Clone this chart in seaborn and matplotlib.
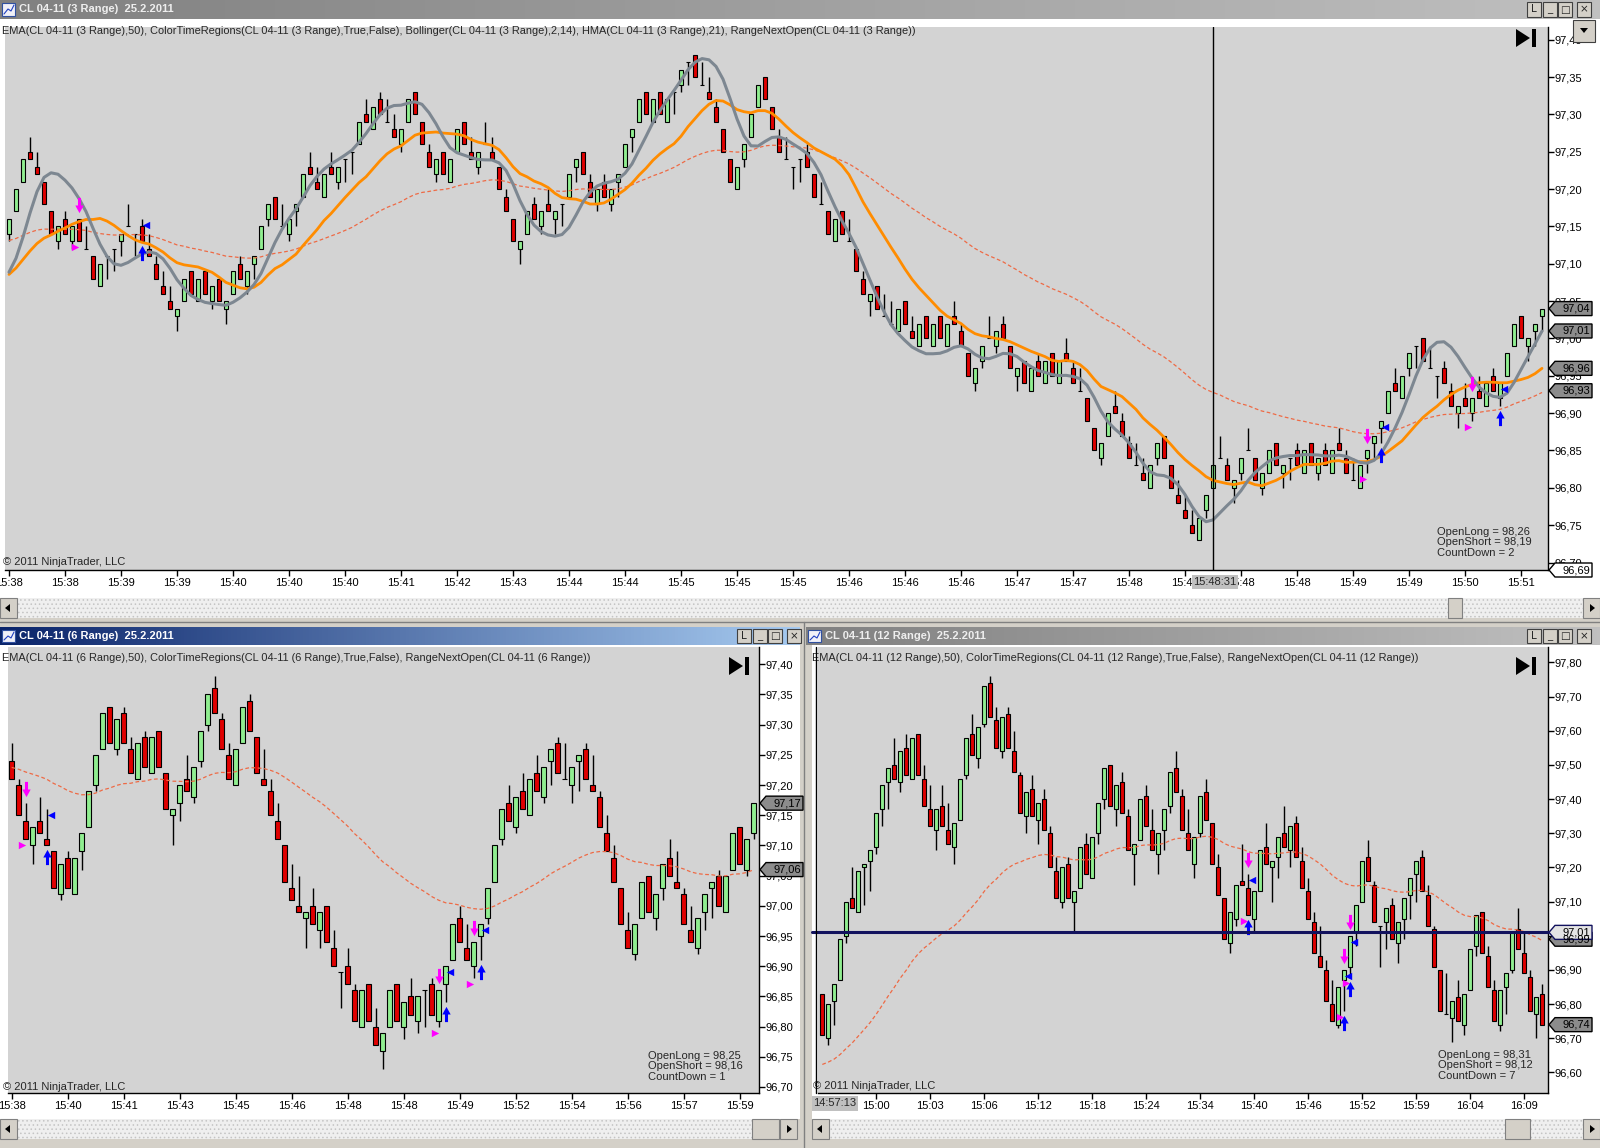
import numpy as np
import pandas as pd
import matplotlib
matplotlib.use("Agg")
import matplotlib.pyplot as plt
import seaborn as sns
from matplotlib.patches import Rectangle, Polygon
from matplotlib.colors import LinearSegmentedColormap
from matplotlib.transforms import offset_copy

# ---------------- data ----------------
# CL 04-11, 3 tick range bars (top window)
top_open = [
    97.14, 97.17, 97.21, 97.25, 97.23, 97.21, 97.17, 97.13, 97.16, 97.13,
    97.16, 97.12, 97.11, 97.07, 97.11, 97.12, 97.13, 97.15, 97.14, 97.15,
    97.12, 97.10, 97.07, 97.05, 97.03, 97.05, 97.09, 97.05, 97.09, 97.05,
    97.08, 97.04, 97.06, 97.10, 97.07, 97.10, 97.12, 97.16, 97.19, 97.15,
    97.14, 97.17, 97.19, 97.23, 97.21, 97.19, 97.23, 97.21, 97.24, 97.25,
    97.26, 97.30, 97.28, 97.32, 97.29, 97.28, 97.26, 97.29, 97.33, 97.29,
    97.25, 97.22, 97.25, 97.21, 97.25, 97.29, 97.25, 97.23, 97.26, 97.25,
    97.23, 97.19, 97.16, 97.12, 97.14, 97.18, 97.15, 97.18, 97.16, 97.18,
    97.19, 97.23, 97.25, 97.21, 97.18, 97.21, 97.18, 97.21, 97.23, 97.27,
    97.29, 97.33, 97.29, 97.33, 97.29, 97.33, 97.34, 97.37, 97.38, 97.34,
    97.33, 97.31, 97.28, 97.24, 97.20, 97.24, 97.27, 97.31, 97.35, 97.31,
    97.27, 97.24, 97.23, 97.24, 97.25, 97.22, 97.18, 97.17, 97.13, 97.17,
    97.13, 97.12, 97.08, 97.05, 97.07, 97.03, 97.02, 97.01, 97.05, 97.01,
    96.99, 97.03, 96.99, 97.03, 96.99, 97.03, 97.01, 96.98, 96.94, 96.97,
    97.00, 96.99, 97.02, 96.99, 96.95, 96.97, 96.93, 96.97, 96.94, 96.98,
    96.94, 96.98, 96.96, 96.93, 96.92, 96.88, 96.84, 96.87, 96.91, 96.89,
    96.86, 96.83, 96.82, 96.80, 96.84, 96.87, 96.83, 96.79, 96.77, 96.75,
    96.73, 96.77, 96.80, 96.84, 96.83, 96.80, 96.82, 96.85, 96.84, 96.80,
    96.82, 96.86, 96.82, 96.84, 96.85, 96.82, 96.86, 96.82, 96.85, 96.82,
    96.86, 96.84, 96.81, 96.80, 96.84, 96.86, 96.88, 96.90, 96.94, 96.92,
    96.96, 96.99, 97.00, 96.96, 96.95, 96.96, 96.93, 96.90, 96.92, 96.90,
    96.93, 96.91, 96.95, 96.92, 96.95, 96.99, 97.03, 96.99, 97.01, 97.03,
]
top_close = [
    97.16, 97.20, 97.24, 97.24, 97.22, 97.18, 97.14, 97.15, 97.14, 97.15,
    97.13, 97.12, 97.08, 97.10, 97.11, 97.12, 97.14, 97.15, 97.14, 97.13,
    97.11, 97.08, 97.06, 97.04, 97.04, 97.08, 97.06, 97.08, 97.06, 97.07,
    97.05, 97.05, 97.09, 97.08, 97.09, 97.11, 97.15, 97.18, 97.16, 97.15,
    97.16, 97.18, 97.22, 97.22, 97.20, 97.22, 97.22, 97.23, 97.24, 97.25,
    97.29, 97.29, 97.31, 97.30, 97.29, 97.27, 97.28, 97.32, 97.30, 97.26,
    97.23, 97.24, 97.22, 97.24, 97.28, 97.26, 97.24, 97.25, 97.26, 97.24,
    97.20, 97.17, 97.13, 97.13, 97.17, 97.16, 97.17, 97.17, 97.17, 97.18,
    97.22, 97.24, 97.22, 97.19, 97.20, 97.19, 97.20, 97.22, 97.26, 97.28,
    97.32, 97.30, 97.32, 97.30, 97.32, 97.33, 97.36, 97.37, 97.35, 97.34,
    97.32, 97.29, 97.25, 97.21, 97.23, 97.26, 97.30, 97.34, 97.32, 97.28,
    97.25, 97.24, 97.23, 97.24, 97.23, 97.19, 97.18, 97.14, 97.16, 97.14,
    97.13, 97.09, 97.06, 97.06, 97.04, 97.03, 97.02, 97.04, 97.02, 97.00,
    97.02, 97.00, 97.02, 97.00, 97.02, 97.02, 96.99, 96.95, 96.96, 96.99,
    97.00, 97.01, 97.00, 96.96, 96.96, 96.94, 96.96, 96.95, 96.97, 96.95,
    96.97, 96.97, 96.94, 96.93, 96.89, 96.85, 96.86, 96.90, 96.90, 96.87,
    96.84, 96.83, 96.81, 96.83, 96.86, 96.84, 96.80, 96.78, 96.76, 96.74,
    96.76, 96.79, 96.83, 96.84, 96.81, 96.81, 96.84, 96.85, 96.81, 96.82,
    96.85, 96.83, 96.83, 96.84, 96.83, 96.85, 96.83, 96.84, 96.83, 96.85,
    96.85, 96.82, 96.81, 96.83, 96.85, 96.87, 96.89, 96.93, 96.93, 96.95,
    96.98, 96.99, 96.97, 96.96, 96.95, 96.94, 96.91, 96.91, 96.91, 96.92,
    96.92, 96.94, 96.93, 96.94, 96.98, 97.02, 97.00, 97.00, 97.02, 97.04,
]
top_doji_close_high = [15, 16, 19, 49, 50, 80, 96, 98, 113, 114, 184, 202, 205]
top_short_bars = [11, 195, 210]
top_long_bars = [20, 197, 214]
top_time_labels = ["15:38", "15:38", "15:39", "15:39", "15:40", "15:40", "15:40",
                   "15:41", "15:42", "15:43", "15:44", "15:44", "15:45", "15:45",
                   "15:45", "15:46", "15:46", "15:46", "15:47", "15:47", "15:48",
                   "15:48", "15:48", "15:48", "15:49", "15:49", "15:50", "15:51"]
top_flags = [97.04, 97.01, 96.96, 96.93]
top_cursor_bar, top_cursor_time, top_cursor_price = 173, "15:48:31", 96.69
top_ema_start, top_history = 97.13, 97.08

# CL 04-11, 6 tick range bars (bottom left)
bl_open = [
    97.24, 97.20, 97.14, 97.10, 97.14, 97.11, 97.09, 97.02, 97.08, 97.02,
    97.09, 97.13, 97.20, 97.26, 97.33, 97.26, 97.32, 97.26, 97.21, 97.28,
    97.22, 97.29, 97.22, 97.15, 97.17, 97.21, 97.18, 97.24, 97.30, 97.36,
    97.31, 97.25, 97.20, 97.27, 97.34, 97.28, 97.21, 97.19, 97.14, 97.10,
    97.03, 97.00, 96.98, 97.00, 96.96, 97.00, 96.93, 96.89, 96.90, 96.86,
    96.80, 96.87, 96.80, 96.76, 96.80, 96.87, 96.80, 96.85, 96.81, 96.86,
    96.87, 96.81, 96.87, 96.91, 96.98, 96.93, 96.90, 96.95, 96.98, 97.04,
    97.11, 97.17, 97.13, 97.19, 97.15, 97.22, 97.18, 97.24, 97.27, 97.21,
    97.20, 97.24, 97.26, 97.20, 97.18, 97.12, 97.08, 97.03, 96.96, 96.92,
    96.98, 97.05, 96.98, 97.03, 97.08, 97.04, 97.02, 96.96, 96.93, 96.99,
    97.03, 97.05, 96.99, 97.06, 97.13, 97.06, 97.12,
]
bl_close = [
    97.21, 97.15, 97.11, 97.13, 97.12, 97.10, 97.03, 97.07, 97.03, 97.08,
    97.12, 97.19, 97.25, 97.32, 97.27, 97.31, 97.27, 97.22, 97.27, 97.23,
    97.28, 97.23, 97.16, 97.16, 97.20, 97.19, 97.23, 97.29, 97.35, 97.32,
    97.26, 97.21, 97.26, 97.33, 97.29, 97.22, 97.20, 97.15, 97.11, 97.04,
    97.01, 96.99, 96.99, 96.97, 96.99, 96.94, 96.90, 96.89, 96.87, 96.81,
    96.86, 96.81, 96.77, 96.79, 96.86, 96.81, 96.84, 96.82, 96.85, 96.86,
    96.82, 96.86, 96.90, 96.97, 96.94, 96.91, 96.94, 96.97, 97.03, 97.10,
    97.16, 97.14, 97.18, 97.16, 97.21, 97.19, 97.23, 97.26, 97.22, 97.21,
    97.23, 97.25, 97.21, 97.19, 97.13, 97.09, 97.04, 96.97, 96.93, 96.97,
    97.04, 96.99, 97.02, 97.07, 97.05, 97.03, 96.97, 96.94, 96.98, 97.02,
    97.04, 97.00, 97.05, 97.12, 97.07, 97.11, 97.17,
]
bl_doji_close_high = [48, 60]
bl_short_bars = [3, 62, 67]
bl_long_bars = [6, 63, 68]
bl_time_labels = ["15:38", "15:40", "15:41", "15:43", "15:45", "15:46", "15:48",
                  "15:48", "15:49", "15:52", "15:54", "15:56", "15:57", "15:59"]
bl_flags = [97.17, 97.06]
bl_ema_start = 97.23

# CL 04-11, 12 tick range bars (bottom right)
br_open = [
    96.83, 96.70, 96.81, 96.87, 97.00, 97.11, 97.07, 97.20, 97.22, 97.26,
    97.37, 97.45, 97.50, 97.45, 97.55, 97.46, 97.59, 97.46, 97.37, 97.31,
    97.38, 97.31, 97.26, 97.34, 97.47, 97.59, 97.52, 97.62, 97.74, 97.63,
    97.54, 97.65, 97.54, 97.47, 97.35, 97.43, 97.34, 97.40, 97.30, 97.19,
    97.10, 97.21, 97.10, 97.14, 97.27, 97.17, 97.30, 97.40, 97.50, 97.37,
    97.45, 97.35, 97.24, 97.28, 97.41, 97.31, 97.24, 97.31, 97.38, 97.49,
    97.41, 97.30, 97.21, 97.30, 97.42, 97.33, 97.20, 97.11, 96.98, 97.05,
    97.16, 97.14, 97.05, 97.13, 97.26, 97.20, 97.23, 97.30, 97.25, 97.33,
    97.22, 97.13, 97.04, 96.94, 96.90, 96.80, 96.74, 96.87, 96.91, 97.01,
    97.10, 97.23, 97.15, 97.03, 97.04, 97.09, 96.98, 97.05, 97.12, 97.18,
    97.23, 97.12, 97.02, 96.90, 96.77, 96.76, 96.82, 96.74, 96.84, 96.97,
    97.07, 96.94, 96.84, 96.74, 96.85, 96.90, 97.02, 96.95, 96.88, 96.77,
    96.83,
]
br_close = [
    96.71, 96.80, 96.86, 96.99, 97.10, 97.08, 97.19, 97.21, 97.25, 97.36,
    97.44, 97.49, 97.46, 97.54, 97.47, 97.58, 97.47, 97.38, 97.32, 97.37,
    97.32, 97.27, 97.33, 97.46, 97.58, 97.53, 97.61, 97.73, 97.64, 97.55,
    97.64, 97.55, 97.48, 97.36, 97.42, 97.35, 97.39, 97.31, 97.20, 97.11,
    97.20, 97.11, 97.13, 97.26, 97.18, 97.29, 97.39, 97.49, 97.38, 97.44,
    97.36, 97.25, 97.27, 97.40, 97.32, 97.25, 97.30, 97.37, 97.48, 97.42,
    97.31, 97.25, 97.29, 97.41, 97.34, 97.21, 97.12, 96.99, 97.07, 97.15,
    97.15, 97.06, 97.13, 97.25, 97.21, 97.22, 97.29, 97.26, 97.32, 97.23,
    97.14, 97.05, 96.95, 96.91, 96.81, 96.75, 96.85, 96.90, 97.00, 97.09,
    97.22, 97.16, 97.04, 97.03, 97.08, 96.99, 97.04, 97.11, 97.17, 97.22,
    97.13, 97.03, 96.91, 96.78, 96.77, 96.81, 96.75, 96.83, 96.96, 97.06,
    96.95, 96.85, 96.75, 96.84, 96.89, 97.01, 96.96, 96.89, 96.78, 96.82,
    96.74,
]
br_doji_close_high = [94]
br_short_bars = [72, 88, 89]
br_long_bars = [72, 88, 89]
br_time_labels = ["15:00", "15:03", "15:06", "15:12", "15:18", "15:24", "15:34",
                  "15:40", "15:46", "15:52", "15:59", "16:04", "16:09"]
br_flags = [96.99, 96.74]
br_cursor_time, br_cursor_price = "14:57:13", 97.01
br_ema_start = 96.62

# ---------------- styling ----------------
sns.set_theme(style="white")
plt.rcParams["font.family"] = ["Liberation Sans", "DejaVu Sans"]
plt.rcParams["hatch.linewidth"] = 0.6

W, H = 1600, 1148
PLOT_BG = "#d3d3d3"
UP_COL, DOWN_COL = "#90ee90", "#e00000"
EMA_COL, SMA_COL, HMA_COL = "#ee6a45", "#ff8c00", "#7d8791"
MAGENTA, BLUE = "#ff00ff", "#0000ff"
DOWN_ARROW = [(-0.2, 1.0), (0.2, 1.0), (0.2, 0.0), (0.55, 0.0), (0.0, -1.0), (-0.55, 0.0), (-0.2, 0.0)]
UP_ARROW = [(x, -y) for x, y in DOWN_ARROW]

fig = plt.figure(figsize=(W / 100, H / 100), dpi=100)
fig.patch.set_facecolor("#d4d0c8")

bg = fig.add_axes([0, 0, 1, 1])
bg.set_zorder(-5)
bg.axis("off")


def px_axes(x0, y0, x1, y1):
    return fig.add_axes([x0 / W, 1 - y1 / H, (x1 - x0) / W, (y1 - y0) / H])


def title_bar(x0, x1, y0, y1, c0, c1, text, tcolor, btn_x):
    cmap = LinearSegmentedColormap.from_list("tb", [c0, c1])
    bg.imshow(np.linspace(0, 1, 256)[None, :], extent=(x0, x1, y1, y0), cmap=cmap,
              aspect="auto", zorder=2)
    bg.add_patch(Rectangle((x0 + 2, y0 + 3), 13, y1 - y0 - 6, fc="#f0f0f8", ec="#3050a0", lw=0.8, zorder=3))
    bg.plot([x0 + 4, x0 + 8, x0 + 11, x0 + 14], [y1 - 5, y0 + 9, y0 + 11, y0 + 5], color="#2040c0", lw=0.8, zorder=4)
    bg.text(x0 + 19, (y0 + y1) / 2, text, color=tcolor, fontsize=8, fontweight="bold",
            va="center", ha="left", zorder=3)
    for k, g in enumerate(["L", "_", "□", "×"]):
        bx = btn_x + [0, 16, 31, 50][k]
        bg.add_patch(Rectangle((bx, y0 + 2), 14, y1 - y0 - 4, fc="#d4d0c8", ec="#404040", lw=0.8, zorder=3))
        bg.text(bx + 7, (y0 + y1) / 2, g, fontsize=7.5, ha="center", va="center",
                family="DejaVu Sans", zorder=4)


def scrollbar(x0, x1, y0, y1, t0, t1):
    bg.add_patch(Rectangle((x0, y0), x1 - x0, y1 - y0, fc="#efefef", ec="#c4c4c4", hatch="....", lw=0, zorder=2))
    yc = (y0 + y1) / 2
    for bx, pts in ((x0, [(x0 + 5, yc), (x0 + 10, yc - 4), (x0 + 10, yc + 4)]),
                    (x1 - 17, [(x1 - 5, yc), (x1 - 10, yc - 4), (x1 - 10, yc + 4)])):
        bg.add_patch(Rectangle((bx, y0), 17, y1 - y0, fc="#d4d0c8", ec="#808080", lw=0.8, zorder=3))
        bg.add_patch(Polygon(pts, closed=True, fc="black", ec="none", zorder=4))
    bg.add_patch(Rectangle((t0, y0), t1 - t0, y1 - y0, fc="#d4d0c8", ec="#808080", lw=0.8, zorder=3))


# window chrome
bg.add_patch(Rectangle((0, 19), 1600, 580, fc="white", ec="none", zorder=1))
bg.add_patch(Rectangle((0, 645), 800, 474, fc="white", ec="none", zorder=1))
bg.add_patch(Rectangle((812, 645), 788, 474, fc="white", ec="none", zorder=1))
title_bar(0, 1600, 0, 19, "#808080", "#c0c0c0", "CL 04-11 (3 Range)  25.2.2011", "#eeeeee", 1527)
title_bar(0, 800, 627, 645, "#0a246a", "#a6caf0", "CL 04-11 (6 Range)  25.2.2011", "white", 737)
title_bar(806, 1600, 627, 645, "#808080", "#c0c0c0", "CL 04-11 (12 Range)  25.2.2011", "#eeeeee", 1527)
scrollbar(0, 1600, 598, 618, 1448, 1462)
scrollbar(0, 797, 1119, 1139, 752, 779)
scrollbar(812, 1600, 1119, 1139, 1505, 1530)
bg.plot([0, 1600], [622, 622], color="#808080", lw=1, zorder=2)
bg.plot([804, 804], [622, 1148], color="#808080", lw=1, zorder=2)
bg.set_xlim(0, W)
bg.set_ylim(H, 0)


# ---------------- chart helpers ----------------
def range_bars(opens, closes, rng, doji_high):
    o = np.asarray(opens)
    c = np.asarray(closes)
    bar_no = np.arange(1, len(c) + 1)
    # a range bar closes at one end of its range
    at_high = (c > o) | ((c == o) & np.isin(bar_no, doji_high))
    high = np.where(at_high, c, c + rng)
    return o, c, high, high - rng


def draw_candles(ax, o, c, high, low, width):
    x = np.arange(len(c))
    ax.vlines(x, low, high, color="black", lw=1, zorder=2)
    ax.bar(x, np.abs(c - o), bottom=np.minimum(o, c), width=width,
           color=np.where(c > o, UP_COL, DOWN_COL), edgecolor="black", linewidth=0.8, zorder=3)


def ema(closes, start, span=50):
    s = pd.Series([start] + list(closes))
    return s.ewm(span=span, adjust=False).mean().iloc[1:].to_numpy()


def wma(s, n):
    w = np.arange(1, n + 1)
    return s.rolling(n).apply(lambda a: np.dot(a, w) / w.sum(), raw=True)


def sma_hma(closes, history, n_sma=14, n_hma=21, pad=40):
    s = pd.Series([history] * pad + list(closes))
    sma = s.rolling(n_sma).mean()
    raw = 2 * wma(s, n_hma // 2) - wma(s, n_hma)
    hma = wma(raw, int(np.sqrt(n_hma)))
    return sma.iloc[pad:].to_numpy(), hma.iloc[pad:].to_numpy()


def line(ax, y, color, lw, ls="-"):
    sns.lineplot(x=np.arange(len(y)), y=y, ax=ax, color=color, linewidth=lw,
                 linestyle=ls, zorder=4, legend=False)


def signals(ax, high, low, short_bars, long_bars):
    def off(dx, dy):
        return offset_copy(ax.transData, fig=fig, x=dx, y=dy, units="dots")
    s = np.asarray(short_bars) - 1
    l = np.asarray(long_bars) - 1
    ax.scatter(s, high[s], marker=DOWN_ARROW, s=120, color=MAGENTA, linewidths=0, transform=off(0, 14), zorder=6)
    ax.scatter(s, low[s], marker=">", s=28, color=MAGENTA, linewidths=0, transform=off(-4, -6), zorder=6)
    ax.scatter(l, low[l], marker=UP_ARROW, s=120, color=BLUE, linewidths=0, transform=off(0, -12), zorder=6)
    ax.scatter(l, high[l], marker="<", s=28, color=BLUE, linewidths=0, transform=off(4, -6), zorder=6)


def finish_axis(ax, xlim, ylim, yticks, tick_step, tick_first, labels):
    ax.set_xlim(*xlim)
    ax.set_ylim(*ylim)
    ax.set_facecolor(PLOT_BG)
    ax.yaxis.tick_right()
    ax.set_yticks(yticks)
    ax.set_yticklabels([f"{v:.2f}".replace(".", ",") for v in yticks])
    ax.set_xticks(tick_first + tick_step * np.arange(len(labels)))
    ax.set_xticklabels(labels)
    ax.tick_params(axis="y", direction="out", length=4, width=1, pad=1, labelsize=8,
                   colors="black", right=True, left=False)
    ax.tick_params(axis="x", direction="out", length=4, width=1, pad=2, labelsize=8,
                   colors="black", bottom=True)
    for side in ("left", "top"):
        ax.spines[side].set_visible(False)
    for side in ("right", "bottom"):
        ax.spines[side].set_visible(True)
        ax.spines[side].set_color("black")
        ax.spines[side].set_linewidth(1)
    ax.set_xlabel("")
    ax.set_ylabel("")


# ---------------- top chart (3 range) ----------------
ax_top = px_axes(5, 27, 1548, 570)
o, c, hi, lo = range_bars(top_open, top_close, 0.03, top_doji_close_high)
draw_candles(ax_top, o, c, hi, lo, 0.7)
sma14, hma21 = sma_hma(c, top_history)
line(ax_top, ema(c, top_ema_start), EMA_COL, 0.9, (0, (3, 2)))
line(ax_top, sma14, SMA_COL, 2.0)
line(ax_top, hma21, HMA_COL, 2.2)
signals(ax_top, hi, lo, top_short_bars, top_long_bars)
ax_top.axvline(top_cursor_bar - 1, color="black", lw=1, zorder=7)
finish_axis(ax_top, ((5 - 9) / 7, (1548 - 9) / 7), (96.690, 97.417),
            np.round(np.arange(96.70, 97.401, 0.05), 2), 8, 0, top_time_labels)

# ---------------- bottom left (6 range) ----------------
ax_bl = px_axes(8, 647, 759, 1093)
o, c, hi, lo = range_bars(bl_open, bl_close, 0.06, bl_doji_close_high)
draw_candles(ax_bl, o, c, hi, lo, 0.66)
line(ax_bl, ema(c, bl_ema_start), EMA_COL, 0.9, (0, (3, 2)))
signals(ax_bl, hi, lo, bl_short_bars, bl_long_bars)
finish_axis(ax_bl, ((8 - 11.7) / 7, (759 - 11.7) / 7), (96.690, 97.4286),
            np.round(np.arange(96.70, 97.401, 0.05), 2), 8, 0, bl_time_labels)

# ---------------- bottom right (12 range) ----------------
ax_br = px_axes(818, 647, 1548, 1093)
o, c, hi, lo = range_bars(br_open, br_close, 0.12, br_doji_close_high)
draw_candles(ax_br, o, c, hi, lo, 0.68)
line(ax_br, ema(c, br_ema_start), EMA_COL, 0.9, (0, (3, 2)))
signals(ax_br, hi, lo, br_short_bars, br_long_bars)
finish_axis(ax_br, ((818 - 822.3) / 6, (1548 - 822.3) / 6), (96.540, 97.845),
            np.round(np.arange(96.60, 97.801, 0.10), 2), 9, 9, br_time_labels)

# ---------------- overlay: labels, flags, icons ----------------
ov = fig.add_axes([0, 0, 1, 1])
ov.set_zorder(20)
ov.axis("off")
ov.set_xlim(0, W)
ov.set_ylim(H, 0)


def y_px(ax, price):
    return H - ax.transData.transform((0, price))[1]


def flag(ax, x0, price, fc, ec="black"):
    y = y_px(ax, price)
    pts = [(x0 + 1, y), (x0 + 7, y - 7), (x0 + 44, y - 7), (x0 + 44, y + 7), (x0 + 7, y + 7)]
    ov.add_patch(Polygon(pts, closed=True, fc=fc, ec=ec, lw=1, zorder=5))
    ov.text(x0 + 42, y, f"{price:.2f}".replace(".", ","), fontsize=8, ha="right", va="center",
            color="black", zorder=6)


def play_icon(x, y):
    ov.add_patch(Polygon([(x, y), (x + 14, y + 9), (x, y + 18)], closed=True, fc="black", ec="none"))
    ov.add_patch(Rectangle((x + 16, y), 4, 18, fc="black", ec="none"))


def time_box(xc, y, text):
    ov.add_patch(Rectangle((xc - 23, y - 7), 46, 14, fc="#c0c0c0", ec="none", zorder=5))
    ov.text(xc, y, text, fontsize=8, ha="center", va="center", zorder=6)


for v in top_flags:
    flag(ax_top, 1548, v, "#8c8c8c")
flag(ax_top, 1548, top_cursor_price, "white")
for v in bl_flags:
    flag(ax_bl, 759, v, "#8c8c8c")
for v in br_flags:
    flag(ax_br, 1548, v, "#8c8c8c")

# crosshair of the 12 range window
yc = y_px(ax_br, br_cursor_price)
ov.plot([812, 1548], [yc, yc], color="#12125e", lw=2.2, zorder=4)
ov.plot([815.7, 815.7], [647, 1093], color="black", lw=1, zorder=4)
flag(ax_br, 1548, br_cursor_price, "#e4e4e4", ec="#12125e")
time_box(1214.5, 582, top_cursor_time)
ov.add_patch(Rectangle((812, 1096), 46, 15, fc="#c0c0c0", ec="none", zorder=5))
ov.text(835, 1103.5, br_cursor_time, fontsize=8, ha="center", va="center", zorder=6)

# indicator captions
ov.text(2, 31, "EMA(CL 04-11 (3 Range),50), ColorTimeRegions(CL 04-11 (3 Range),True,False), "
        "Bollinger(CL 04-11 (3 Range),2,14), HMA(CL 04-11 (3 Range),21), RangeNextOpen(CL 04-11 (3 Range))",
        fontsize=7.9, va="center", ha="left")
ov.text(2, 658, "EMA(CL 04-11 (6 Range),50), ColorTimeRegions(CL 04-11 (6 Range),True,False), "
        "RangeNextOpen(CL 04-11 (6 Range))", fontsize=7.9, va="center", ha="left")
ov.text(812, 658, "EMA(CL 04-11 (12 Range),50), ColorTimeRegions(CL 04-11 (12 Range),True,False), "
        "RangeNextOpen(CL 04-11 (12 Range))", fontsize=7.9, va="center", ha="left")

for x, y in ((3, 562), (3, 1087), (813, 1086)):
    ov.text(x, y, "© 2011 NinjaTrader, LLC", fontsize=8, va="center", ha="left")

ov.text(1437, 527, "OpenLong = 98,26\nOpenShort = 98,19\nCountDown = 2", fontsize=8,
        va="top", ha="left", linespacing=1.05)
ov.text(648, 1051, "OpenLong = 98,25\nOpenShort = 98,16\nCountDown = 1", fontsize=8,
        va="top", ha="left", linespacing=1.05)
ov.text(1438, 1050, "OpenLong = 98,31\nOpenShort = 98,12\nCountDown = 7", fontsize=8,
        va="top", ha="left", linespacing=1.05)

play_icon(1516, 29)
play_icon(729, 657)
play_icon(1516, 657)

# drop-down button of the top window
ov.add_patch(Rectangle((1573, 20), 22, 22, fc="#d4d0c8", ec="#404040", lw=0.8))
ov.add_patch(Polygon([(1580, 28), (1588, 28), (1584, 33)], closed=True, fc="black", ec="none"))

fig.savefig("out.png", dpi=100)
